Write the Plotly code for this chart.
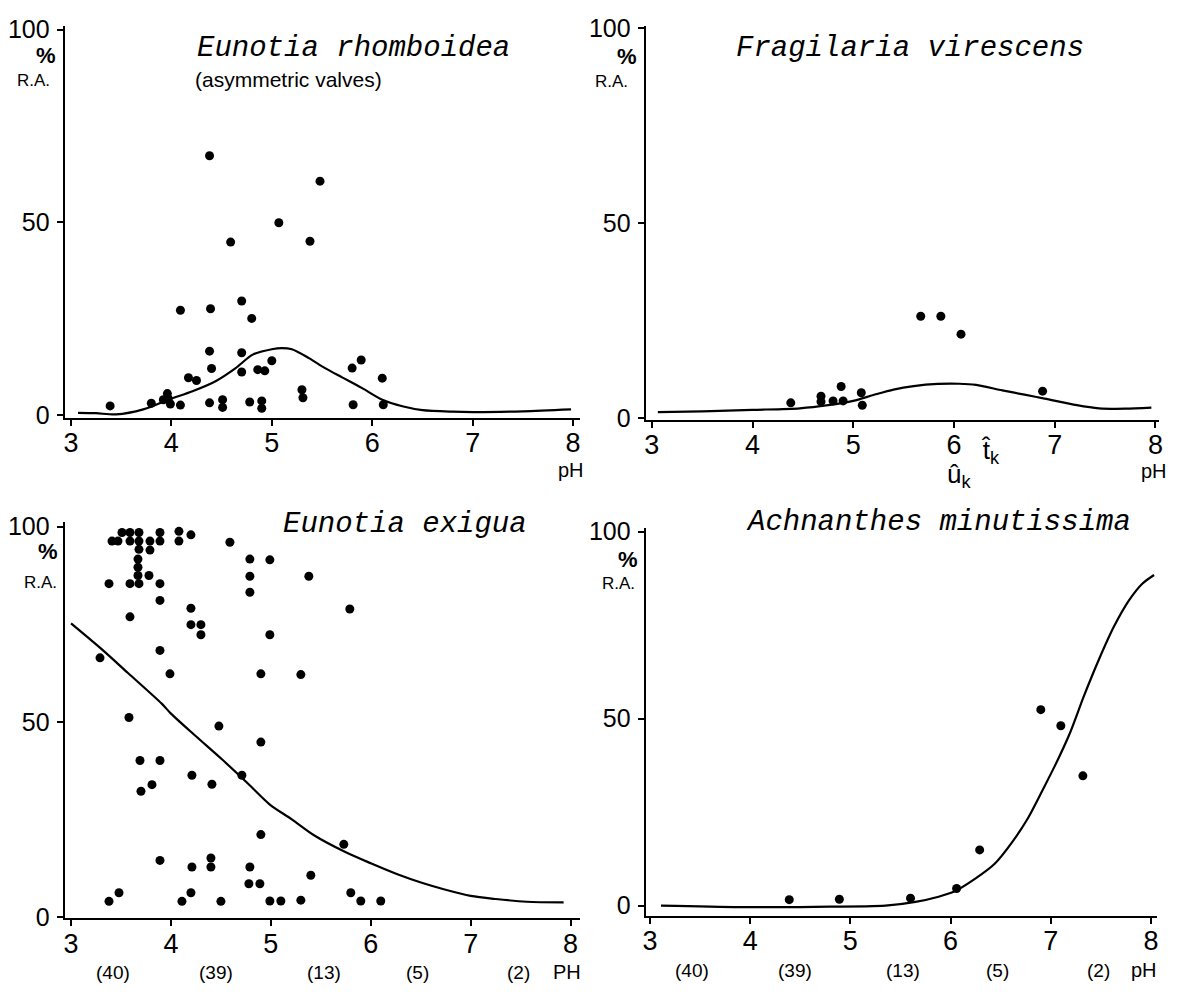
import plotly.graph_objects as go

# Page body has a default 8px margin: shift the figure so it lands on the reference pixels.
OFF = 8
W, H = 1181 - OFF, 997 - OFF

# ---------------- data ----------------
ph_ticks = [3, 4, 5, 6, 7, 8]
ra_ticks = [0, 50, 100]
count_labels = ["(40)", "(39)", "(13)", "(5)", "(2)"]
count_ph = [3.42, 4.45, 5.53, 6.47, 7.48]

rhomb_ph = [3.39, 3.80, 3.92, 3.96, 3.97, 3.99, 4.09, 4.17, 4.25, 4.09, 4.38, 4.39, 4.38, 4.40,
            4.38, 4.51, 4.51, 4.59, 4.70, 4.80, 4.70, 4.70, 4.78, 4.86, 4.93, 4.90, 4.90, 5.00,
            5.07, 5.30, 5.31, 5.38, 5.48, 5.80, 5.89, 5.81, 6.10, 6.11]
rhomb_ra = [2.4, 3.1, 4.0, 5.6, 4.3, 2.9, 2.6, 9.7, 9.0, 27.2, 67.3, 27.6, 16.6, 12.1,
            3.2, 4.0, 2.0, 44.9, 29.6, 25.1, 16.2, 11.2, 3.4, 11.8, 11.5, 3.7, 1.8, 14.1,
            49.9, 6.6, 4.5, 45.1, 60.7, 12.2, 14.3, 2.7, 9.6, 2.7]
rhomb_fit_ph = [3.07, 3.25, 3.45, 3.72, 3.98, 4.21, 4.44, 4.64, 4.81, 5.00, 5.10, 5.20, 5.37,
                5.53, 5.70, 5.90, 6.10, 6.30, 6.50, 6.80, 7.00, 7.50, 7.98]
rhomb_fit_ra = [0.6, 0.5, 0.2, 1.5, 4.1, 6.2, 8.8, 12.2, 15.7, 17.1, 17.4, 17.1, 14.8,
                12.2, 9.8, 7.0, 4.0, 2.3, 1.3, 0.9, 0.8, 1.0, 1.5]

frag_ph = [4.38, 4.68, 4.68, 4.80, 4.88, 4.90, 5.08, 5.09, 5.67, 5.87, 6.07, 6.88]
frag_ra = [3.9, 5.6, 4.2, 4.4, 8.1, 4.4, 6.5, 3.3, 26.1, 26.1, 21.5, 6.9]
frag_fit_ph = [3.06, 3.5, 4.0, 4.47, 4.75, 5.0, 5.2, 5.4, 5.6, 5.84, 6.05, 6.22, 6.48, 6.70,
               6.90, 7.22, 7.44, 7.70, 7.96]
frag_fit_ra = [1.5, 1.7, 2.1, 2.5, 3.3, 4.4, 5.9, 7.3, 8.2, 8.75, 8.8, 8.5, 7.1, 6.0,
               5.0, 3.3, 2.5, 2.4, 2.7]

exig_ph = [3.51, 3.59, 3.68, 3.89, 4.08,
           3.41, 3.47, 3.59, 3.68, 3.79, 3.89, 4.08, 4.20, 4.59,
           3.68, 3.79, 3.67, 3.67, 3.67, 3.78,
           3.38, 3.59, 3.68, 3.89, 3.89, 4.20, 3.59, 4.20, 4.30, 4.30,
           3.89, 3.29, 3.99,
           4.79, 4.99, 4.79, 4.79, 5.38, 5.79, 4.99, 4.90, 5.30,
           3.58, 4.48, 4.90,
           3.69, 3.89, 3.70, 3.81, 4.21, 4.41, 4.71, 4.90, 5.73,
           3.89, 4.40, 4.40, 4.21, 4.79, 5.40, 4.78, 4.89,
           3.38, 3.48, 4.11, 4.20, 4.50, 4.99, 5.10, 5.30, 5.80, 5.90, 6.10]
exig_ra = [98.5, 98.5, 98.5, 98.5, 98.8,
           96.3, 96.3, 96.3, 96.3, 96.3, 96.3, 96.3, 97.9, 96.0,
           94.2, 94.0, 91.7, 89.6, 87.5, 87.5,
           85.4, 85.4, 85.4, 85.4, 81.1, 79.1, 76.9, 74.9, 74.9, 72.3,
           68.3, 66.4, 62.3,
           91.7, 91.5, 87.3, 83.2, 87.3, 78.9, 72.3, 62.3, 62.1,
           51.1, 48.9, 44.8,
           40.1, 40.1, 32.2, 33.9, 36.3, 34.0, 36.3, 21.1, 18.6,
           14.5, 15.1, 12.8, 12.8, 12.8, 10.7, 8.5, 8.5,
           4.0, 6.2, 4.0, 6.2, 4.0, 4.1, 4.1, 4.3, 6.2, 4.1, 4.1]
exig_fit_ph = [3.00, 3.32, 3.57, 3.91, 4.00, 4.25, 4.51, 4.77, 4.99, 5.21, 5.44, 5.74, 6.00,
               6.28, 6.51, 6.73, 7.00, 7.25, 7.56, 7.93]
exig_fit_ra = [75.2, 68.3, 62.5, 54.6, 52.1, 46.3, 40.4, 34.2, 28.8, 25.0, 20.8, 16.7, 13.75,
               10.8, 8.75, 7.1, 5.4, 4.6, 3.9, 3.75]

achn_ph = [4.39, 4.89, 5.60, 6.06, 6.29, 6.90, 7.10, 7.32]
achn_ra = [1.6, 1.7, 2.0, 4.6, 14.9, 52.4, 48.1, 34.7]
achn_fit_ph = [3.11, 3.90, 4.64, 5.35, 5.65, 5.88, 6.03, 6.25, 6.44, 6.62, 6.77, 6.92, 7.05,
               7.19, 7.33, 7.48, 7.63, 7.78, 7.91, 8.03]
achn_fit_ra = [0.0, -0.4, -0.3, 0.0, 1.0, 2.4, 3.7, 7.3, 11.2, 17.2, 23.3, 31.0, 37.9,
               46.1, 56.0, 65.8, 74.6, 81.6, 86.0, 88.4]

# ---------------- layout helpers (reference pixel -> paper) ----------------
def px(x):
    return (x - OFF) / W

def py(y):
    return 1 - (y - OFF) / H

SANS = "Liberation Sans, Arial, sans-serif"
MONO = "Liberation Mono, Courier New, monospace"

panels = [
    dict(xd=(61, 580), yd=(15, 417), xr=[2.937, 8.07], yr=[-0.76, 101.0]),
    dict(xd=(646, 1163), yd=(15, 419), xr=[2.939, 8.037], yr=[-0.5, 100.5]),
    dict(xd=(61, 580), yd=(524, 929.5), xr=[2.936, 8.095], yr=[-0.3, 101.075]),
    dict(xd=(646, 1161), yd=(530, 927.3), xr=[2.957, 8.061], yr=[-2.76, 100.87]),
]

series = [
    (rhomb_ph, rhomb_ra, rhomb_fit_ph, rhomb_fit_ra),
    (frag_ph, frag_ra, frag_fit_ph, frag_fit_ra),
    (exig_ph, exig_ra, exig_fit_ph, exig_fit_ra),
    (achn_ph, achn_ra, achn_fit_ph, achn_fit_ra),
]

fig = go.Figure()
layout = dict(
    width=W, height=H,
    margin=dict(l=0, r=0, t=0, b=0),
    paper_bgcolor="white", plot_bgcolor="white",
    showlegend=False,
)

for i, (p, s) in enumerate(zip(panels, series), start=1):
    xa = "x" if i == 1 else f"x{i}"
    ya = "y" if i == 1 else f"y{i}"
    fig.add_trace(go.Scatter(x=s[2], y=s[3], mode="lines", xaxis=xa, yaxis=ya,
                             line=dict(color="black", width=2.2, shape="spline", smoothing=0.8),
                             hoverinfo="skip"))
    fig.add_trace(go.Scatter(x=s[0], y=s[1], mode="markers", xaxis=xa, yaxis=ya,
                             marker=dict(color="black", size=9, line=dict(width=0))))
    common = dict(showline=True, linecolor="black", linewidth=2, ticks="outside",
                  ticklen=6, tickwidth=2, tickcolor="black", showgrid=False, zeroline=False,
                  fixedrange=True)
    layout["xaxis" if i == 1 else f"xaxis{i}"] = dict(
        domain=[px(p["xd"][0]), px(p["xd"][1])], range=p["xr"], anchor=ya,
        tickvals=ph_ticks, ticktext=[str(t) for t in ph_ticks],
        tickfont=dict(family=SANS, size=27, color="black"), ticklabelstandoff=-6, **common)
    layout["yaxis" if i == 1 else f"yaxis{i}"] = dict(
        domain=[py(p["yd"][1]), py(p["yd"][0])], range=p["yr"], anchor=xa,
        tickvals=ra_ticks, ticktext=[str(t) for t in ra_ticks],
        tickfont=dict(family=SANS, size=25, color="black"), ticklabelstandoff=2, **common)

fig.update_layout(**layout)

ann = []

def text(x, y, t, size, family=SANS, italic=False, xanchor="center"):
    ann.append(dict(x=px(x), y=py(y), xref="paper", yref="paper", text=t, showarrow=False,
                    xanchor=xanchor, yanchor="middle",
                    font=dict(family=family, size=size, color="black",
                              style="italic" if italic else "normal")))

# titles
text(352, 38, "Eunotia rhomboidea", 29, MONO, True)
text(286, 70, "(asymmetric valves)", 21)
text(912, 38, "Fragilaria virescens", 29, MONO, True)
text(404, 526, "Eunotia exigua", 29, MONO, True)
text(941, 524, "Achnanthes minutissima", 29, MONO, True)

# y-axis unit labels
for (pxc, pyc, rx, ry) in [(42, 45, 30, 71), (627, 46, 612, 72), (44, 554, 37, 586), (628, 562, 619, 587)]:
    text(pxc, pyc, "<b>%</b>", 22)
    text(rx, ry, "R.A.", 17)

# pH labels top panels
text(571, 470, "pH", 20)
text(1158, 471, "pH", 20)

# optimum / tolerance marks
text(962, 476, "û<sub>k</sub>", 26)
text(993, 451, "t\u0302<sub>k</sub>", 26)

# sample counts along the pH axis (bottom panels)
for xa, pyc in [("x3", 985), ("x4", 983)]:
    for lab, xv in zip(count_labels, count_ph):
        ann.append(dict(x=xv, y=py(pyc), xref=xa, yref="paper", text=lab, showarrow=False,
                        xanchor="center", yanchor="middle",
                        font=dict(family=SANS, size=19, color="black")))
text(567, 985, "PH", 20)
text(1148, 983, "pH", 20)

fig.update_layout(annotations=ann)
fig.write_html("out.html")
